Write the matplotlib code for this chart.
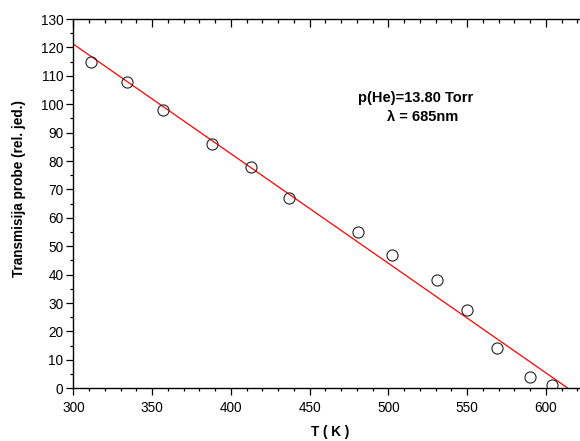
import numpy as np
from matplotlib import pyplot as plt
from matplotlib.ticker import MultipleLocator

plt.rcParams['font.family'] = ['Liberation Sans', 'DejaVu Sans']

# measured points
temperature = [311, 334, 357, 388, 413, 437, 481, 502, 531, 550, 569, 590, 604]
transmission = [115, 108, 98, 86, 78, 67, 55, 47, 38, 27.5, 14.3, 4.0, 1.3]

# linear fit
slope, intercept = np.polyfit(temperature, transmission, 1)
fit_x = np.array([300, 630])
fit_y = slope * fit_x + intercept

fig = plt.figure(figsize=(5.8, 4.41), dpi=100)
ax = fig.add_axes([0.1267, 0.1195, 0.885, 0.8374])

ax.plot(fit_x, fit_y, color='red', linewidth=0.9, zorder=2)
ax.plot(temperature, transmission, linestyle='none', marker='o', markersize=8,
        markerfacecolor='none', markeredgecolor='#222222', markeredgewidth=0.8, zorder=3)

ax.set_xlim(300, 626)
ax.set_ylim(0, 130)
ax.xaxis.set_major_locator(MultipleLocator(50))
ax.xaxis.set_minor_locator(MultipleLocator(10))
ax.yaxis.set_major_locator(MultipleLocator(10))
ax.yaxis.set_minor_locator(MultipleLocator(5))

ax.spines['right'].set_visible(False)
for s in ['left', 'bottom', 'top']:
    ax.spines[s].set_linewidth(1.0)

ax.tick_params(axis='both', which='major', direction='out', length=4.7, width=0.9,
               labelsize=9.8, pad=2.5)
ax.tick_params(axis='x', which='major', pad=4.5)
ax.tick_params(axis='both', which='minor', direction='out', length=2.5, width=0.9)
ax.tick_params(axis='x', which='both', top=True)
ax.tick_params(axis='y', which='both', right=False)

# top ticks point inward
for t in ax.xaxis.get_major_ticks():
    t.tick2line.set_marker(3)
    t.tick2line.set_markersize(5.4)
for t in ax.xaxis.get_minor_ticks():
    t.tick2line.set_marker(3)
    t.tick2line.set_markersize(3.2)

ax.set_xlabel('T ( K )', fontsize=9.8, fontweight='bold', labelpad=7)
ax.set_ylabel('Transmisija probe (rel. jed.)', fontsize=9.8, fontweight='bold',
              labelpad=11, y=0.54)

ax.text(517, 102.2, 'p(He)=13.80 Torr', ha='center', va='center', fontsize=10.5,
        fontweight='bold')
ax.text(521.5, 95.5, 'λ = 685nm', ha='center', va='center', fontsize=10.5,
        fontweight='bold')

fig.savefig('out.png', dpi=100)
